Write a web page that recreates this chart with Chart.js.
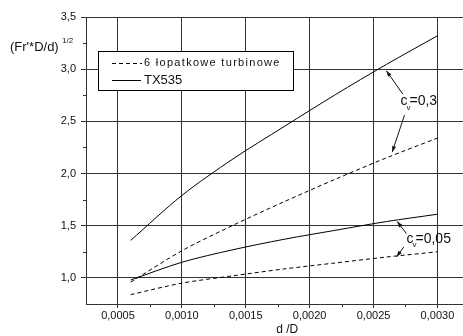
<!DOCTYPE html>
<html>
<head>
<meta charset="utf-8">
<script src="https://cdn.jsdelivr.net/npm/chart.js@4"></script>
<style>
  html, body { margin: 0; padding: 0; background: #fff; overflow: hidden; }
  #wrap { width: 463px; height: 336px; }
</style>
</head>
<body>
<div id="wrap"><canvas id="fluidChart"></canvas></div>
<script>
// d/D values where the curves were read
const xVals = [0.0006, 0.0010, 0.0014, 0.0018, 0.0022, 0.0026, 0.0030];
// (Fr'*D/d)^1/2
const tx535Cv03 = [1.36, 1.79, 2.14, 2.45, 2.755, 3.045, 3.32];
const turbCv03 = [0.96, 1.26, 1.504, 1.73, 1.945, 2.15, 2.34];
const tx535Cv005 = [0.98, 1.15, 1.27, 1.37, 1.456, 1.54, 1.61];
const turbCv005 = [0.84, 0.95, 1.02, 1.086, 1.143, 1.20, 1.25];

const xTicks = [0.0005, 0.0010, 0.0015, 0.0020, 0.0025, 0.0030];
const xMinor = [0.00075, 0.00125, 0.00175, 0.00225, 0.00275];
const yTicks = [1.0, 1.5, 2.0, 2.5, 3.0, 3.5];
const yMinor = [1.25, 1.75, 2.25, 2.75, 3.25];

const legendLabels = ['6 łopatkowe turbinowe', 'TX535'];

// arrows for the c_v labels, in data units: [fromX, fromY, toX, toY]
const arrows03 = [[0.00273, 2.76, 0.00260, 2.985], [0.002742, 2.56, 0.002646, 2.205]];
const arrows005 = [[0.002758, 1.424, 0.002685, 1.541], [0.002737, 1.297, 0.00268, 1.202]];
const label03 = {x: 0.002711, y: 2.69, text: '=0,3'};
const label005 = {x: 0.002758, y: 1.37, text: '=0,05'};

const FONT = '"Liberation Sans", Arial, sans-serif';

function pts(ys){
  return ys.map((y, i) => ({x: xVals[i], y: y}));
}

function lineSet(label, ys, dashed){
  return {
    label: label,
    data: pts(ys),
    borderColor: '#000',
    borderWidth: 1,
    borderDash: dashed ? [4, 3] : [],
    pointRadius: 0,
    fill: false,
    tension: 0.3
  };
}

const extras = {
  id: 'extras',
  afterDraw(chart){
    const ctx = chart.ctx;
    const xs = chart.scales.x, ys = chart.scales.y;
    const area = chart.chartArea;
    ctx.save();
    ctx.strokeStyle = '#333';
    ctx.lineWidth = 1;
    // minor ticks
    ctx.beginPath();
    xMinor.forEach(v => {
      const px = Math.round(xs.getPixelForValue(v)) + 0.5;
      ctx.moveTo(px, area.bottom); ctx.lineTo(px, area.bottom + 3);
    });
    yMinor.forEach(v => {
      const py = Math.round(ys.getPixelForValue(v)) + 0.5;
      ctx.moveTo(area.left, py); ctx.lineTo(area.left - 3, py);
    });
    ctx.stroke();

    // axis titles
    ctx.fillStyle = '#111';
    ctx.textBaseline = 'middle';
    ctx.textAlign = 'left';
    ctx.font = '13px ' + FONT;
    ctx.fillText("(Fr'*D/d)", 10, 47);
    ctx.font = '8px ' + FONT;
    ctx.fillText('1/2', 62, 41);
    ctx.textAlign = 'center';
    ctx.font = '12px ' + FONT;
    ctx.fillText('d /D', (xs.getPixelForValue(0.0018) + xs.getPixelForValue(0.00185)) / 2, 330);

    // legend box
    const bx = area.left + 12, by = area.top + 34, bw = 195, bh = 39;
    ctx.fillStyle = '#fff';
    ctx.fillRect(bx, by, bw, bh);
    ctx.strokeStyle = '#000';
    ctx.strokeRect(bx + 0.5, by + 0.5, bw, bh);
    ctx.beginPath();
    ctx.setLineDash([4, 3]);
    ctx.moveTo(bx + 14, by + 12.5); ctx.lineTo(bx + 44, by + 12.5);
    ctx.stroke();
    ctx.beginPath();
    ctx.setLineDash([]);
    ctx.moveTo(bx + 14, by + 29.5); ctx.lineTo(bx + 43, by + 29.5);
    ctx.stroke();
    ctx.fillStyle = '#111';
    ctx.textAlign = 'left';
    ctx.font = '11px ' + FONT;
    ctx.letterSpacing = '1.3px';
    ctx.fillText(legendLabels[0], bx + 46, by + 12);
    ctx.letterSpacing = '0px';
    ctx.font = '13px ' + FONT;
    ctx.fillText(legendLabels[1], bx + 46, by + 29);

    // c_v labels with arrows
    function arrow(a){
      const x0 = xs.getPixelForValue(a[0]), y0 = ys.getPixelForValue(a[1]);
      const x1 = xs.getPixelForValue(a[2]), y1 = ys.getPixelForValue(a[3]);
      const ang = Math.atan2(y1 - y0, x1 - x0);
      ctx.beginPath();
      ctx.moveTo(x0, y0); ctx.lineTo(x1, y1);
      ctx.stroke();
      ctx.beginPath();
      ctx.moveTo(x1, y1);
      ctx.lineTo(x1 - 6 * Math.cos(ang) + 2 * Math.sin(ang), y1 - 6 * Math.sin(ang) - 2 * Math.cos(ang));
      ctx.lineTo(x1 - 6 * Math.cos(ang) - 2 * Math.sin(ang), y1 - 6 * Math.sin(ang) + 2 * Math.cos(ang));
      ctx.closePath();
      ctx.fill();
    }
    function cvLabel(l){
      const px = xs.getPixelForValue(l.x), py = ys.getPixelForValue(l.y);
      ctx.textAlign = 'left';
      ctx.font = '14px ' + FONT;
      ctx.fillText('c', px, py);
      ctx.font = '8px ' + FONT;
      ctx.fillText('v', px + 6, py + 6);
      ctx.font = '14px ' + FONT;
      ctx.fillText(l.text, px + 9, py);
    }
    ctx.fillStyle = '#111';
    ctx.strokeStyle = '#111';
    arrows03.forEach(arrow);
    arrows005.forEach(arrow);
    cvLabel(label03);
    cvLabel(label005);
    ctx.restore();
  }
};

const ctx = document.getElementById('fluidChart');
new Chart(ctx, {
  type: 'line',
  data: {
    datasets: [
      lineSet('TX535', tx535Cv03, false),
      lineSet('6 łopatkowe turbinowe', turbCv03, true),
      lineSet('TX535', tx535Cv005, false),
      lineSet('6 łopatkowe turbinowe', turbCv005, true)
    ]
  },
  options: {
    responsive: true,
    maintainAspectRatio: false,
    animation: false,
    layout: { padding: { top: 17, right: 0, left: 0, bottom: 0 } },
    plugins: { legend: { display: false }, tooltip: { enabled: false } },
    scales: {
      x: {
        type: 'linear',
        min: 0.00025,
        max: 0.0032,
        afterBuildTicks: function(scale){ scale.ticks = xTicks.map(v => ({value: v})); },
        afterFit: function(scale){ scale.height = 32; },
        grid: { color: '#333', lineWidth: 1, tickLength: 4 },
        border: { display: true, color: '#333', width: 1 },
        ticks: {
          autoSkip: false, maxRotation: 0, padding: 1, color: '#111',
          font: { family: FONT, size: 11 },
          callback: v => v.toFixed(4).replace('.', ',')
        }
      },
      y: {
        type: 'linear',
        min: 0.75,
        max: 3.5,
        afterBuildTicks: function(scale){ scale.ticks = yTicks.map(v => ({value: v})); },
        afterFit: function(scale){ scale.width = 86; },
        grid: { color: '#333', lineWidth: 1, tickLength: 5 },
        border: { display: true, color: '#333', width: 1 },
        ticks: {
          padding: 5, color: '#111',
          font: { family: FONT, size: 11 },
          callback: v => v.toFixed(1).replace('.', ',')
        }
      }
    }
  },
  plugins: [extras]
});
</script>
</body>
</html>
